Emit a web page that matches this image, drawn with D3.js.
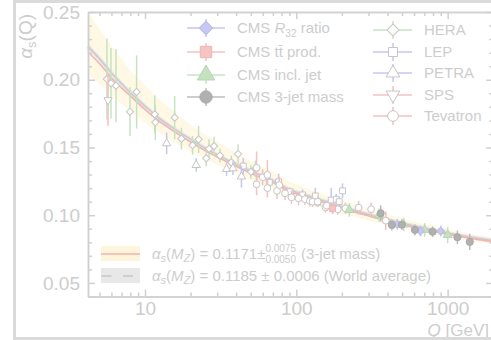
<!DOCTYPE html>
<html>
<head>
<meta charset="utf-8">
<script src="https://cdn.jsdelivr.net/npm/d3@7"></script>
<style>
  body { margin: 0; background: #fff; }
  svg { display: block; }
</style>
</head>
<body>
<div id="chart"></div>
<script>
// Running coupling curves
const qGrid      = [4.2, 5, 6, 7, 8, 10, 12, 15, 20, 25, 30, 40, 50, 70, 91.2, 100, 150, 200, 300, 500, 700, 1000, 1500, 2000];
const fitCentral = [0.2205, 0.212, 0.2015, 0.194, 0.188, 0.178, 0.1705, 0.163, 0.154, 0.1475, 0.143, 0.136, 0.131, 0.124, 0.1171, 0.1157, 0.1095, 0.105, 0.0995, 0.093, 0.0895, 0.086, 0.0825, 0.0805];
const fitUpper   = [0.250, 0.238, 0.225, 0.215, 0.207, 0.196, 0.187, 0.178, 0.167, 0.1595, 0.154, 0.146, 0.140, 0.132, 0.1246, 0.1228, 0.1155, 0.111, 0.1048, 0.0975, 0.0935, 0.0895, 0.0858, 0.0835];
const fitLower   = [0.204, 0.197, 0.189, 0.182, 0.177, 0.168, 0.162, 0.155, 0.147, 0.1415, 0.137, 0.131, 0.126, 0.1195, 0.1121, 0.111, 0.1055, 0.1012, 0.0962, 0.0902, 0.087, 0.0838, 0.0805, 0.0785];
const worldAvg   = [0.2245, 0.2155, 0.205, 0.197, 0.1905, 0.1805, 0.1728, 0.165, 0.156, 0.1493, 0.1445, 0.1375, 0.1325, 0.1255, 0.1185, 0.117, 0.1107, 0.1062, 0.1005, 0.094, 0.0904, 0.0868, 0.0833, 0.0812];

// Measurements: [Q, alpha_s, error]
const hera = [[5.6, 0.2005, 0.03], [5.96, 0.1974, 0.026], [6.43, 0.1956, 0.027], [7.96, 0.1764, 0.018],
  [8.8, 0.191, 0.027], [11.6, 0.1745, 0.014], [11.7, 0.1686, 0.013], [15.7, 0.172, 0.016], [17.4, 0.1565, 0.008],
  [20.6, 0.1516, 0.007], [22.6, 0.156, 0.01], [25.4, 0.142, 0.006], [26.5, 0.149, 0.007], [28.6, 0.151, 0.007],
  [31.3, 0.144, 0.005], [37.2, 0.139, 0.005], [41.2, 0.1452, 0.007], [50.1, 0.132, 0.005], [53.6, 0.1343, 0.006]];
const lep = [[44.6, 0.1363, 0.006], [66.3, 0.1243, 0.004], [76.4, 0.1247, 0.006], [90.7, 0.1174, 0.003],
  [110, 0.115, 0.004], [133.6, 0.1142, 0.006], [139, 0.1095, 0.003], [170, 0.1112, 0.009], [183.5, 0.1118, 0.004],
  [192, 0.110, 0.004], [202, 0.118, 0.0055]];
const petra = [[13.9, 0.153, 0.008], [21.8, 0.137, 0.005], [34.6, 0.134, 0.005], [38.1, 0.1346, 0.005], [43.4, 0.1285, 0.008]];
const sps = [[5.7, 0.185, 0.019]];
const tevatron = [[54.6, 0.135, 0.012], [54.6, 0.1228, 0.008], [59.9, 0.128, 0.006], [64.4, 0.1297, 0.011],
  [64.4, 0.120, 0.007], [74.5, 0.118, 0.006], [77.2, 0.1223, 0.006], [84.2, 0.1162, 0.005], [92.9, 0.1132, 0.005],
  [103.4, 0.1125, 0.005], [113.8, 0.1118, 0.004], [122.8, 0.1105, 0.004], [128, 0.110, 0.004], [138.4, 0.110, 0.004],
  [155.6, 0.1058, 0.004], [159, 0.107, 0.004], [174, 0.105, 0.004], [188, 0.1044, 0.004], [211, 0.1051, 0.004],
  [258, 0.1056, 0.005], [312, 0.1044, 0.005], [390, 0.096, 0.007]];
const cmsR32 = [[465, 0.0933, 0.004], [661, 0.0883, 0.004], [900, 0.0883, 0.004]];
const cmsTT = [[173, 0.1051, 0.004]];
const cmsInclJet = [[224, 0.1039, 0.005], [353, 0.100, 0.005], [512, 0.0932, 0.005], [705, 0.0891, 0.005], [1000, 0.0854, 0.006]];
const cms3Jet = [[361, 0.1014, 0.006], [428, 0.0928, 0.004], [498, 0.093, 0.004], [608, 0.0891, 0.004],
  [795, 0.0878, 0.004], [1160, 0.0837, 0.005], [1400, 0.0803, 0.006]];

const yTicks = [0.05, 0.10, 0.15, 0.20, 0.25];
const xTicks = [10, 100, 1000];

const width = 491, height = 340;
const textColor = "#cdcdcd";
const axisColor = "#d0d0d0";
const font = "'Liberation Sans', Arial, Helvetica, sans-serif";

const svg = d3.select("#chart").append("svg")
  .attr("width", width)
  .attr("height", height)
  .style("font-family", font);

const x = d3.scaleLog().domain([4.2, 2000]).range([88, 493.2]);
const y = d3.scaleLinear().domain([0.04, 0.25]).range([296.5, 12]);

const curve = qGrid.map((q, i) => ({ q, c: fitCentral[i], hi: fitUpper[i], lo: fitLower[i], wa: worldAvg[i] }));

// Bands and curves
svg.append("path")
  .datum(curve)
  .attr("fill", "#fef8e4")
  .attr("d", d3.area().x(d => x(d.q)).y0(d => y(d.lo)).y1(d => y(d.hi)).curve(d3.curveMonotoneX));

svg.append("path")
  .datum(curve)
  .attr("fill", "none")
  .attr("stroke", "#e6e6e6")
  .attr("stroke-width", 4)
  .attr("d", d3.line().x(d => x(d.q)).y(d => y(d.wa)).curve(d3.curveMonotoneX));

svg.append("path")
  .datum(curve)
  .attr("fill", "none")
  .attr("stroke", "#cbcbcb")
  .attr("stroke-width", 1.5)
  .attr("d", d3.line().x(d => x(d.q)).y(d => y(d.wa)).curve(d3.curveMonotoneX));

svg.append("path")
  .datum(curve)
  .attr("fill", "none")
  .attr("stroke", "#f6b0b0")
  .attr("stroke-width", 1.5)
  .attr("d", d3.line().x(d => x(d.q)).y(d => y(d.c)).curve(d3.curveMonotoneX));

// Series styles
const green = "#c4e4c0", blue = "#c6c6f4", red = "#f6c0c0";
const series = [
  { name: "HERA", data: hera, color: green, type: d3.symbolSquare, rot: 45, size: 26, fill: "#fff", stroke: "#c6c6c6" },
  { name: "LEP", data: lep, color: blue, type: d3.symbolSquare, rot: 0, size: 34, fill: "#fff", stroke: "#c6c6c6" },
  { name: "PETRA", data: petra, color: blue, type: d3.symbolTriangle, rot: 0, size: 30, fill: "#fff", stroke: "#c6c6c6" },
  { name: "SPS", data: sps, color: red, type: d3.symbolTriangle, rot: 180, size: 30, fill: "#fff", stroke: "#c6c6c6" },
  { name: "Tevatron", data: tevatron, color: red, type: d3.symbolCircle, rot: 0, size: 36, fill: "#fff", stroke: "#c6c6c6" },
  { name: "CMS tt", data: cmsTT, color: red, type: d3.symbolSquare, rot: 0, size: 36, fill: "#f7c4c4", stroke: "#efb6b6" },
  { name: "CMS incl. jet", data: cmsInclJet, color: green, type: d3.symbolTriangle, rot: 0, size: 34, fill: "#c4e2c0", stroke: "#b6d8b2" },
  { name: "CMS R32", data: cmsR32, color: blue, type: d3.symbolSquare, rot: 45, size: 30, fill: "#c8c8f4", stroke: "#bcbcec" },
  { name: "CMS 3-jet", data: cms3Jet, color: "#bcbcbc", type: d3.symbolCircle, rot: 0, size: 40, fill: "#b0b0b0", stroke: "#a8a8a8" }
];

series.forEach(s => {
  const g = svg.append("g");
  g.selectAll("line")
    .data(s.data)
    .join("line")
    .attr("x1", d => x(d[0])).attr("x2", d => x(d[0]))
    .attr("y1", d => y(d[1] + d[2])).attr("y2", d => y(d[1] - d[2]))
    .attr("stroke", s.color)
    .attr("stroke-width", 1.5);
  g.selectAll("path")
    .data(s.data)
    .join("path")
    .attr("transform", d => `translate(${x(d[0])},${y(d[1])}) rotate(${s.rot})`)
    .attr("d", d3.symbol().type(s.type).size(s.size))
    .attr("fill", s.fill)
    .attr("stroke", s.stroke)
    .attr("stroke-width", 1);
});

// Axes
const minorX = x.ticks().filter(d => !xTicks.includes(d));
const minorY = y.ticks(20).filter(d => !yTicks.some(t => Math.abs(t - d) < 1e-9));

function styleAxis(g) {
  g.attr("color", axisColor).style("font-family", font).style("font-size", "19px");
  g.selectAll("path, line").attr("stroke-width", 1.5);
  g.selectAll("text").attr("fill", textColor);
}

svg.append("g")
  .attr("transform", "translate(0,296.5)")
  .call(d3.axisBottom(x).tickValues(xTicks).tickFormat(d3.format("d")).tickSizeInner(-7).tickSizeOuter(0).tickPadding(5))
  .call(styleAxis);
svg.append("g")
  .attr("transform", "translate(0,296.5)")
  .call(d3.axisBottom(x).tickValues(minorX).tickFormat("").tickSizeInner(-4).tickSizeOuter(0))
  .call(styleAxis);
svg.append("g")
  .attr("transform", "translate(0,12)")
  .call(d3.axisTop(x).tickValues(xTicks).tickFormat("").tickSizeInner(-7).tickSizeOuter(0))
  .call(styleAxis);
svg.append("g")
  .attr("transform", "translate(0,12)")
  .call(d3.axisTop(x).tickValues(minorX).tickFormat("").tickSizeInner(-4).tickSizeOuter(0))
  .call(styleAxis);

svg.append("g")
  .attr("transform", "translate(88,0)")
  .call(d3.axisLeft(y).tickValues(yTicks).tickFormat(d3.format(".2f")).tickSizeInner(-7).tickSizeOuter(0).tickPadding(8))
  .call(styleAxis);
svg.append("g")
  .attr("transform", "translate(88,0)")
  .call(d3.axisLeft(y).tickValues(minorY).tickFormat("").tickSizeInner(-4).tickSizeOuter(0))
  .call(styleAxis);
svg.append("g")
  .attr("transform", "translate(493.2,0)")
  .call(d3.axisRight(y).tickValues(yTicks).tickFormat("").tickSizeInner(-7).tickSizeOuter(0))
  .call(styleAxis);
svg.append("g")
  .attr("transform", "translate(493.2,0)")
  .call(d3.axisRight(y).tickValues(minorY).tickFormat("").tickSizeInner(-4).tickSizeOuter(0))
  .call(styleAxis);

// Axis titles
const yTitle = svg.append("text")
  .attr("transform", "translate(32,14) rotate(-90)")
  .attr("text-anchor", "end")
  .attr("fill", textColor)
  .style("font-size", "19px");
yTitle.append("tspan").style("font-style", "italic").text("α");
yTitle.append("tspan").attr("font-size", "13px").attr("dy", 4).text("s");
yTitle.append("tspan").attr("dy", -4).text("(Q)");

const xTitle = svg.append("text")
  .attr("x", 489).attr("y", 335.5)
  .attr("text-anchor", "end")
  .attr("fill", textColor)
  .style("font-size", "17px");
xTitle.append("tspan").style("font-style", "italic").text("Q");
xTitle.append("tspan").text(" [GeV]");

// Legend: measurements
const legendLeft = [
  { s: series[7], label: ["CMS ", "R", "32", " ratio"] },
  { s: series[5], label: ["CMS tt\u0304 prod."] },
  { s: series[6], label: ["CMS incl. jet"] },
  { s: series[8], label: ["CMS 3-jet mass"] }
];
const legendRight = [series[0], series[1], series[2], series[3], series[4]];

function legendMarker(g, s, cx, cy, x1, x2, size) {
  g.append("line").attr("x1", x1).attr("x2", x2).attr("y1", cy).attr("y2", cy)
    .attr("stroke", s.color).attr("stroke-width", 1.5);
  g.append("line").attr("x1", cx).attr("x2", cx).attr("y1", cy - 9).attr("y2", cy + 9)
    .attr("stroke", s.color).attr("stroke-width", 1.5);
  g.append("path")
    .attr("transform", `translate(${cx},${cy}) rotate(${s.rot})`)
    .attr("d", d3.symbol().type(s.type).size(size))
    .attr("fill", s.fill).attr("stroke", s.stroke).attr("stroke-width", 1);
}

const legTop = svg.append("g").style("font-size", "15px");
[28, 52, 75, 97].forEach((ly, i) => {
  const item = legendLeft[i];
  legendMarker(legTop, item.s, 206, ly, 187, 225, item.s.type === d3.symbolCircle ? 120 : (item.s.rot ? 90 : 130));
  const t = legTop.append("text").attr("x", 237).attr("y", ly).attr("dy", "0.35em").attr("fill", textColor);
  if (item.label.length > 1) {
    t.append("tspan").text(item.label[0]);
    t.append("tspan").style("font-style", "italic").text(item.label[1]);
    t.append("tspan").attr("font-size", "10px").attr("dy", 4).text(item.label[2]);
    t.append("tspan").attr("dy", -4).text(item.label[3]);
  } else {
    t.text(item.label[0]);
  }
});
[30, 52, 73, 95, 116].forEach((ly, i) => {
  const s = legendRight[i];
  legendMarker(legTop, s, 393, ly, 373, 412, s.type === d3.symbolCircle ? 90 : (s.rot === 45 ? 72 : 80));
  legTop.append("text").attr("x", 424).attr("y", ly).attr("dy", "0.35em").attr("fill", textColor).text(s.name);
});

// Legend: fits
const legBot = svg.append("g").style("font-size", "15px");
legBot.append("rect").attr("x", 101).attr("y", 246).attr("width", 39).attr("height", 15).attr("fill", "#fdf5dc");
legBot.append("line").attr("x1", 101).attr("x2", 140).attr("y1", 254).attr("y2", 254)
  .attr("stroke", "#f6b0b0").attr("stroke-width", 1.5);
legBot.append("rect").attr("x", 101).attr("y", 268).attr("width", 39).attr("height", 15).attr("fill", "#e8e8e8");
legBot.append("line").attr("x1", 101.5).attr("x2", 140).attr("y1", 276).attr("y2", 276)
  .attr("stroke", "#c8c8c8").attr("stroke-width", 1.5).attr("stroke-dasharray", "10,11.5");

function alphaLabel(ly, rest) {
  const t = legBot.append("text").attr("x", 152).attr("y", ly).attr("dy", "0.35em").attr("fill", textColor);
  t.append("tspan").style("font-style", "italic").text("α");
  t.append("tspan").style("font-style", "italic").attr("font-size", "11px").attr("dy", 3).text("s");
  t.append("tspan").attr("dy", -3).text("(");
  t.append("tspan").style("font-style", "italic").text("M");
  t.append("tspan").style("font-style", "italic").attr("font-size", "11px").attr("dy", 3).text("Z");
  t.append("tspan").attr("dy", -3).text(rest);
  return t;
}
const fitText = alphaLabel(254, ") = 0.1171\u00b1");
const fx = 152 + fitText.node().getComputedTextLength();
legBot.append("text").attr("x", fx).attr("y", 248).attr("dy", "0.35em").attr("font-size", "10px").attr("fill", textColor).text("0.0075");
const sub = legBot.append("text").attr("x", fx).attr("y", 259).attr("dy", "0.35em").attr("font-size", "10px").attr("fill", textColor).text("0.0050");
legBot.append("text").attr("x", fx + sub.node().getComputedTextLength() + 5).attr("y", 254).attr("dy", "0.35em")
  .attr("fill", textColor).text("(3-jet mass)");
alphaLabel(276, ") = 0.1185 \u00b1 0.0006 (World average)");

// Outer frame
svg.append("path")
  .attr("d", `M${width + 5},1.5 H14.5 V338.5 H${width + 5}`)
  .attr("fill", "none")
  .attr("stroke", "#dadada")
  .attr("stroke-width", 3);
</script>
</body>
</html>
